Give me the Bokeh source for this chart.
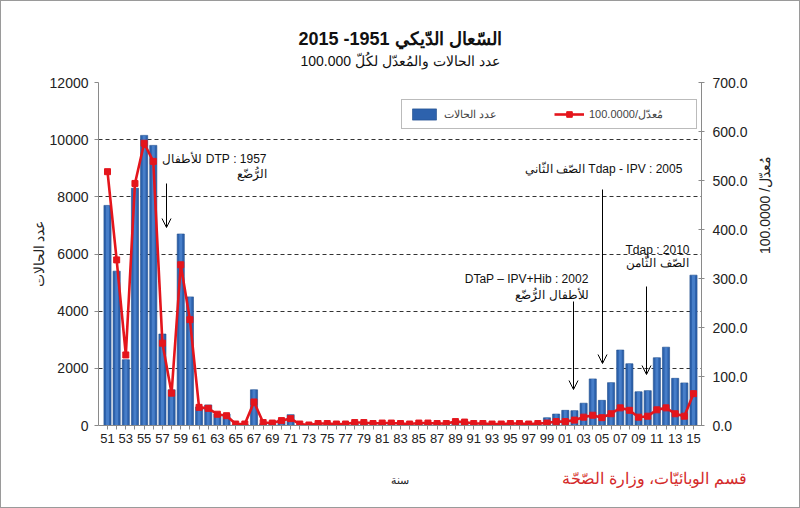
import math
from bokeh.plotting import figure
from bokeh.models import (Range1d, LinearAxis, FixedTicker, Label, Arrow, OpenHead, Title,
                          Legend, LegendItem, NumeralTickFormatter, ColumnDataSource)
from bokeh.embed import file_html
from bokeh.resources import INLINE

# ---------------- data ----------------
year_labels = ["51", "52", "53", "54", "55", "56", "57", "58", "59", "60",
               "61", "62", "63", "64", "65", "66", "67", "68", "69", "70",
               "71", "72", "73", "74", "75", "76", "77", "78", "79", "80",
               "81", "82", "83", "84", "85", "86", "87", "88", "89", "90",
               "91", "92", "93", "94", "95", "96", "97", "98", "99", "00",
               "01", "02", "03", "04", "05", "06", "07", "08", "09", "10",
               "11", "12", "13", "14", "15"]

cases = [7700, 5400, 2300, 8300, 10150, 9800, 3200, 1250, 6700, 4500,
         650, 720, 400, 400, 30, 30, 1250, 60, 60, 200,
         380, 20, 10, 30, 30, 20, 20, 60, 60, 20,
         40, 40, 20, 20, 40, 40, 30, 30, 110, 100,
         30, 30, 30, 20, 30, 20, 20, 30, 270, 400,
         530, 520, 780, 1630, 880, 1500, 2640, 2160, 1180, 1220,
         2370, 2740, 1650, 1490, 5260]

rate = [518, 338, 144, 494, 576, 539, 168, 66, 328, 216,
        37, 35, 23, 20, 3, 3, 48, 6, 5, 10,
        14, 3, 1, 4, 4, 3, 3, 6, 6, 4,
        5, 5, 4, 3, 5, 5, 4, 4, 8, 7,
        4, 4, 3, 3, 4, 4, 3, 4, 5, 8,
        8, 11, 17, 21, 16, 24, 36, 31, 17, 19,
        32, 36, 24, 19, 65]

left_ticks = [0, 2000, 4000, 6000, 8000, 10000, 12000]
right_ticks = [0, 100, 200, 300, 400, 500, 600, 700]

title_text = "السّعال الدّيكي 1951- 2015"
subtitle_text = "عدد الحالات والمُعدّل لكُلّ 100.000"
left_label = "عدد الحالات"
right_label = "مُعدّل/ 100.0000"
x_label = "سنة"
source_text = "قسم الوبائيّات، وزارة الصّحّة"
legend_cases = "عدد الحالات"
legend_rate = "مُعدّل/100.0000"

def rtl(s):
    return "\u202b" + s + "\u202c"

idx = list(range(len(year_labels)))
src = ColumnDataSource(dict(x=idx, cases=cases, rate=rate, label=year_labels))

# ---------------- geometry helpers (page px -> data) ----------------
W, H = 800, 508
FL, FR, FT, FB = 97, 700, 81, 424
X0, PPU = -0.983, 9.156
def dx(px):
    return X0 + (px - FL) / PPU
def dy(py):
    return (FB - py) / (FB - FT) * 12000

p = figure(width=W, height=H, output_backend="svg", toolbar_location=None,
           x_range=Range1d(X0, X0 + (FR - FL) / PPU), y_range=Range1d(0, 12000),
           min_border_left=FL, min_border_right=W - FR,
           min_border_top=FT, min_border_bottom=H - FB,
           background_fill_color="white", border_fill_color="white")
p.title.text = ""
p.outline_line_color = None
p.styles = {"border": "1px solid #9a9a9a", "box-sizing": "border-box"}

p.extra_y_ranges = {"rate": Range1d(0, 700)}

# grid
p.xgrid.grid_line_color = None
p.ygrid.ticker = FixedTicker(ticks=left_ticks)
p.ygrid.grid_line_color = "#333333"
p.ygrid.grid_line_dash = "4 3"
p.ygrid.grid_line_width = 1

# axes
font = "Liberation Sans"
p.yaxis.ticker = FixedTicker(ticks=left_ticks)
p.yaxis.formatter = NumeralTickFormatter(format="0")
p.xaxis.ticker = FixedTicker(ticks=idx)
p.xaxis.major_label_overrides = {i: (year_labels[i] if i % 2 == 0 else "") for i in idx}
for ax in (p.xaxis[0], p.yaxis[0]):
    ax.axis_line_color = "#8a8a8a"
    ax.major_tick_line_color = "#8a8a8a"
    ax.minor_tick_line_color = None
    ax.major_tick_in = 0
    ax.major_tick_out = 4
    ax.major_label_text_font = font
    ax.major_label_text_color = "#222222"
    ax.axis_label_text_font = font
    ax.axis_label_text_font_style = "normal"
    ax.axis_label_text_color = "#222222"
p.yaxis.major_label_text_font_size = "14px"
p.yaxis.major_label_standoff = 6
p.yaxis.axis_label = rtl(left_label)
p.yaxis.axis_label_text_font_size = "14px"
p.yaxis.axis_label_standoff = 0
p.xaxis.major_label_text_font_size = "13px"
p.xaxis.major_label_standoff = 4
p.xaxis.axis_label = rtl(x_label)
p.xaxis.axis_label_text_font_size = "11px"
p.xaxis.axis_label_standoff = 28

ra = LinearAxis(y_range_name="rate", ticker=FixedTicker(ticks=right_ticks),
                formatter=NumeralTickFormatter(format="0.0"))
ra.axis_line_color = "#8a8a8a"
ra.major_tick_line_color = "#8a8a8a"
ra.minor_tick_line_color = None
ra.major_tick_in = 3
ra.major_tick_out = 3
ra.major_label_text_font = font
ra.major_label_text_font_size = "14px"
ra.major_label_text_color = "#222222"
ra.major_label_standoff = 8
ra.axis_label = rtl(right_label)
ra.axis_label_text_font = font
ra.axis_label_text_font_style = "normal"
ra.axis_label_text_font_size = "14px"
ra.axis_label_text_color = "#222222"
ra.axis_label_standoff = 14
ra.axis_label_orientation = math.pi / 2
p.add_layout(ra, "right")

# titles (first added sits closest to the frame)
p.add_layout(Title(text=rtl(subtitle_text), align="center", text_font=font,
                   text_font_size="14px", text_font_style="normal",
                   text_color="#111111", standoff=27), "above")
p.add_layout(Title(text=rtl(title_text), align="center", text_font=font,
                   text_font_size="18px", text_font_style="bold",
                   text_color="#111111", standoff=-22), "above")
p.add_layout(Title(text=rtl(source_text), align="right", text_font=font,
                   text_font_size="16px", text_font_style="normal",
                   text_color="#d42a2a", offset=-45, standoff=-38,
                   vertical_align="top"), "below")

# bars
bars = p.vbar(x="x", top="cases", width=0.78, source=src,
              fill_color="#2d62ad", line_color="#1f4c8a", line_width=0.6)
p.vbar(x="x", top="cases", width=0.32, source=src,
       fill_color="#4d86d0", line_color=None, fill_alpha=0.8)

# rate line
ln = p.line(x="x", y="rate", source=src, y_range_name="rate",
            line_color="#e4151c", line_width=2.6)
mk = p.scatter(x="x", y="rate", source=src, y_range_name="rate", marker="square",
               size=6, fill_color="#e4151c", line_color="#e4151c")

# legend
legend = Legend(items=[LegendItem(label=rtl(legend_cases), renderers=[bars]),
                       LegendItem(label=rtl(legend_rate), renderers=[ln, mk])],
                orientation="horizontal", location=(303, 296), margin=0,
                padding=7, spacing=10, glyph_width=30, glyph_height=14,
                label_width=100, label_standoff=5,
                label_text_font=font, label_text_font_size="11px",
                border_line_color="#777777", border_line_width=1,
                background_fill_color="white", background_fill_alpha=1)
p.add_layout(legend)

# annotation texts (inside the frame)
def lab(txt, px, py, size, align="center"):
    p.add_layout(Label(x=dx(px), y=dy(py), text=rtl(txt), text_align=align,
                       text_baseline="middle", text_font=font,
                       text_font_size=size, text_color="#111111"))

lab("1957 : DTP للأطفال", 265, 157, "12px", align="right")
lab("الرُّضّع", 265, 172, "12px", align="right")
lab("2002 : DTaP – IPV+Hib", 587, 277, "12px", align="right")
lab("للأطفال الرُّضّع", 587, 293, "12px", align="right")
lab("2005 : Tdap - IPV الصّف الثّاني", 602, 167, "12px")
lab("2010 : Tdap", 656, 248, "12px")
lab("الصّف الثّامن", 656, 261, "12px")

for (x, y0, y1) in [(165, 182, 226), (572, 300, 388), (601, 188, 362), (645, 285, 373)]:
    p.add_layout(Arrow(end=OpenHead(size=9, line_width=1, line_color="black"),
                       x_start=dx(x), y_start=dy(y0), x_end=dx(x), y_end=dy(y1),
                       line_color="black", line_width=1))

open("out.html", "w").write(file_html(p, INLINE))
